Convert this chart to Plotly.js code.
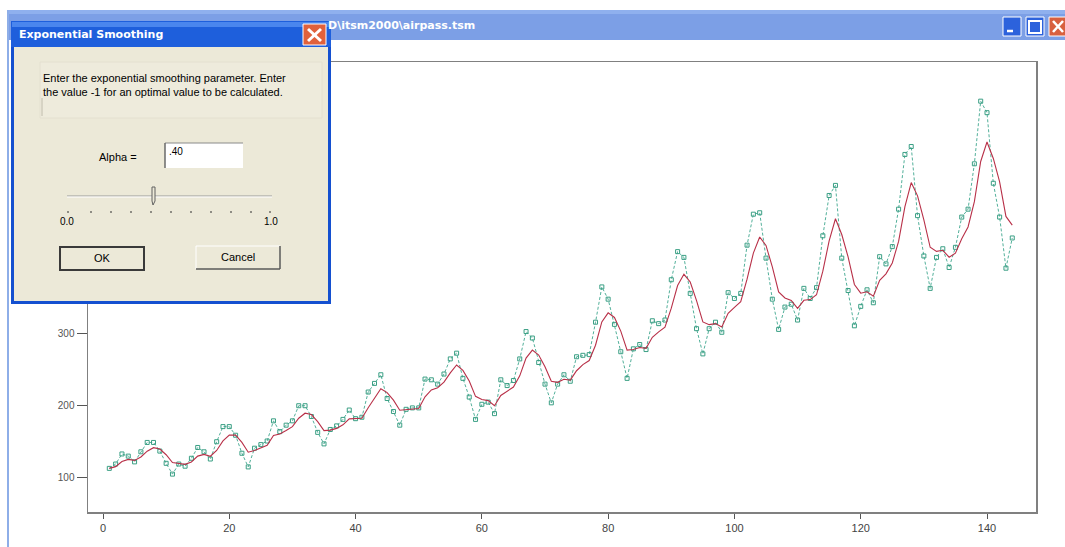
<!DOCTYPE html>
<html>
<head>
<meta charset="utf-8">
<script src="https://cdn.plot.ly/plotly-3.0.1.min.js"></script>
<style>html,body{margin:0;padding:0;background:#fff;}#chart{width:1065px;height:547px;}</style>
</head>
<body>
<div id="chart"></div>
<script>
// Airline passengers series (t = 1..144), as plotted (green, dashed with markers)
const passengers = [
112,118,132,129,121,135,148,148,136,119,104,118,
115,126,141,135,125,149,170,170,158,133,114,140,
145,150,178,163,172,178,199,199,184,162,146,166,
171,180,193,181,183,218,230,242,209,191,172,194,
196,196,236,235,229,243,264,272,237,211,180,201,
204,188,235,227,234,264,302,293,259,229,203,229,
242,233,267,269,270,315,364,347,312,274,237,278,
284,277,317,313,318,374,413,405,355,306,271,306,
315,301,356,348,355,422,465,467,404,347,305,336,
340,318,362,348,363,435,491,505,404,359,310,337,
360,342,406,396,420,472,548,559,463,407,362,405,
417,391,419,461,472,535,622,606,508,461,390,432];

// Smoothed series (red) (alpha = .40)
const smoothed = [
112.0,114.4,121.4,124.5,123.1,127.8,135.9,140.7,138.8,130.9,120.1,119.3,
117.6,120.9,129.0,131.4,128.8,136.9,150.1,158.1,158.1,148.0,134.4,136.7,
140.0,144.0,157.6,159.8,164.7,170.0,181.6,188.6,186.7,176.8,164.5,165.1,
167.5,172.5,180.7,180.8,181.7,196.2,209.7,222.6,217.2,206.7,192.8,193.3,
194.4,195.0,211.4,220.9,224.1,231.7,244.6,255.6,248.1,233.3,212.0,207.6,
206.1,198.9,213.3,218.8,224.9,240.5,265.1,276.3,269.4,253.2,233.1,231.5,
235.7,234.6,247.6,256.1,261.7,283.0,315.4,328.0,321.6,302.6,276.3,277.0,
279.8,278.7,294.0,301.6,308.2,334.5,365.9,381.5,370.9,345.0,315.4,311.6,
313.0,308.2,327.3,335.6,343.4,374.8,410.9,433.3,421.6,391.8,357.1,348.6,
345.2,334.3,345.4,346.4,353.1,385.8,427.9,458.7,436.8,405.7,367.4,355.3,
357.2,351.1,373.1,382.2,397.3,427.2,475.5,508.9,490.5,457.1,419.1,413.4,
414.9,405.3,410.8,430.9,447.3,482.4,538.2,565.3,542.4,509.8,461.9,449.9];

const timeIndex = passengers.map((_, i) => i + 1);
const xTicks = [0, 20, 40, 60, 80, 100, 120, 140];
const yTicks = [100, 200, 300, 400, 500, 600];

// Text of the window chrome
const windowTitle = "D\\itsm2000\\airpass.tsm";
const dialogTitle = "Exponential Smoothing";
const dialogLine1 = "Enter the exponential smoothing parameter. Enter";
const dialogLine2 = "the value -1 for an optimal value to be calculated.";
const alphaLabel = "Alpha =";
const alphaValue = ".40";
const sliderMin = "0.0", sliderMax = "1.0";
const okLabel = "OK", cancelLabel = "Cancel";

// ---- pixel -> paper helpers for decoration ----
const L = 88, R = 1036, T = 62, B = 512;
const px = x => (x - L) / (R - L);
const py = y => (B - y) / (B - T);
const NONE = 'rgba(0,0,0,0)';
function rect(x0, y0, x1, y1, fill, lc, lw) {
  return {type:'rect', xref:'paper', yref:'paper', layer:'above',
    x0:px(x0), x1:px(x1), y0:py(y1), y1:py(y0),
    fillcolor:fill, line:{color:lc || NONE, width:lw || 0}};
}
function seg(x0, y0, x1, y1, c, w) {
  return {type:'line', xref:'paper', yref:'paper', layer:'above',
    x0:px(x0), x1:px(x1), y0:py(y0), y1:py(y1), line:{color:c, width:w || 1}};
}
function poly(pts, fill, lc, lw) {
  const d = pts.map((p, i) => (i ? 'L' : 'M') + px(p[0]) + ',' + py(p[1])).join(' ') + ' Z';
  return {type:'path', xref:'paper', yref:'paper', layer:'above', path:d,
    fillcolor:fill, line:{color:lc || NONE, width:lw || 0}};
}
function txt(x, y, s, opt) {
  opt = opt || {};
  return {xref:'paper', yref:'paper', x:px(x), y:py(y), text:s, showarrow:false,
    xanchor:opt.xa || 'left', yanchor:'middle',
    font:{family:opt.family || 'Liberation Sans, Arial, sans-serif', size:opt.size || 10,
      color:opt.color || '#000', weight: opt.weight || 'normal'}};
}

const shapes = [];
const annotations = [];

// main window title bar + border
shapes.push(rect(8, 10, 1065, 40, '#7c9fe6'));
shapes.push(rect(8, 10, 1065, 14, '#8fb0ee'));
shapes.push(rect(7, 10, 9, 547, '#8eaee8'));
// window buttons
shapes.push(rect(1003, 17, 1021, 36, '#2c62dc', '#ffffff', 1));
shapes.push(seg(1007, 31, 1013, 31, '#ffffff', 2.5));
shapes.push(rect(1026, 17, 1044, 36, '#2c62dc', '#ffffff', 1));
shapes.push(rect(1029, 21, 1041, 33, NONE, '#ffffff', 2));
shapes.push(rect(1049, 17, 1067, 36, '#d8603f', '#ffffff', 1));
shapes.push(seg(1053, 21, 1063, 32, '#ffffff', 2.5));
shapes.push(seg(1063, 21, 1053, 32, '#ffffff', 2.5));
annotations.push(txt(326, 26, windowTitle, {color:'#ffffff', size:11, weight:'bold', family:'DejaVu Sans, sans-serif'}));

// dialog
shapes.push(rect(11, 21, 331, 304, '#1450d0'));
shapes.push(rect(11, 21, 331, 47, '#1e5fdc'));
shapes.push(rect(12, 22, 330, 27, '#4a86ee'));
shapes.push(rect(14, 47, 328, 301, '#ece9d8'));
shapes.push(rect(40, 62, 322, 118, '#eeebdc', '#e4e0d0', 1));
shapes.push(seg(42, 98, 42, 116, '#c0bcac', 1));
// dialog close button
shapes.push(rect(303, 24, 326, 45, '#e0613c', '#ffffff', 1));
shapes.push(seg(308, 29, 321, 41, '#ffffff', 3));
shapes.push(seg(321, 29, 308, 41, '#ffffff', 3));
annotations.push(txt(17, 35, dialogTitle, {color:'#ffffff', size:11, weight:'bold', family:'DejaVu Sans, sans-serif'}));
annotations.push(txt(41, 78, dialogLine1, {size:11}));
annotations.push(txt(41, 92, dialogLine2, {size:11}));
// alpha edit box
annotations.push(txt(97, 157, alphaLabel, {size:11}));
shapes.push(rect(165, 143, 243, 168, '#ffffff'));
shapes.push(seg(165, 143, 243, 143, '#8a8a8a', 1));
shapes.push(seg(165, 143, 165, 168, '#6a6a6a', 1.5));
annotations.push(txt(167, 151, alphaValue, {size:10}));
// slider
shapes.push(seg(67, 196, 272, 196, '#9a9a9a', 1));
shapes.push(seg(67, 197, 272, 197, '#ffffff', 1));
shapes.push(poly([[152,187],[155,187],[155,201],[153,205],[152,201]], '#ece9d8', '#606060', 1));
const tickPx = [68, 91, 111, 131, 151, 171, 191, 211, 231, 251, 270];
tickPx.forEach(x => shapes.push(seg(x, 211, x, 213, '#303030', 1)));
annotations.push(txt(58, 221, sliderMin, {size:10}));
annotations.push(txt(262, 221, sliderMax, {size:10}));
// buttons
shapes.push(rect(60, 247, 144, 270, '#ece9d8', '#3a3a3a', 2));
annotations.push(txt(102, 258, okLabel, {size:11, xa:'center'}));
shapes.push(rect(196, 246, 280, 269, '#ece9d8'));
shapes.push(seg(196, 246, 280, 246, '#ffffff', 1));
shapes.push(seg(196, 246, 196, 269, '#ffffff', 1));
shapes.push(seg(196, 269, 280, 269, '#5a5a5a', 1.5));
shapes.push(seg(280, 246, 280, 269, '#5a5a5a', 1.5));
annotations.push(txt(238, 257, cancelLabel, {size:11, xa:'center'}));

const traces = [
  {x: timeIndex, y: passengers, type:'scatter', mode:'lines+markers',
   line:{color:'#52b09a', width:1, dash:'3px,2px'},
   marker:{symbol:'square-open', size:4, color:'#3a9f84', line:{width:1, color:'#3a9f84'}},
   hoverinfo:'skip'},
  {x: timeIndex, y: smoothed, type:'scatter', mode:'lines',
   line:{color:'#b83048', width:1.1}, hoverinfo:'skip'}
];

const layout = {
  width:1065, height:547,
  margin:{l:L, r:1065 - R, t:T, b:547 - B, pad:0},
  paper_bgcolor:'#ffffff', plot_bgcolor:'#ffffff',
  showlegend:false,
  xaxis:{range:[(L - 103) / 6.3143, (R - 103) / 6.3143], tickvals:xTicks,
    ticks:'outside', ticklen:5, tickcolor:'#555', showgrid:false, zeroline:false,
    showline:true, mirror:true, linecolor:'#808080', linewidth:1.5,
    tickfont:{family:'Liberation Sans, Arial, sans-serif', size:11, color:'#444'}},
  yaxis:{range:[(549 - B) / 0.72, (549 - T) / 0.72], tickvals:yTicks,
    ticks:'outside', ticklen:10, tickcolor:'#555', showgrid:false, zeroline:false,
    showline:true, mirror:true, linecolor:'#808080', linewidth:1.5,
    tickfont:{family:'Liberation Sans, Arial, sans-serif', size:10, color:'#555'}},
  shapes:shapes, annotations:annotations
};

Plotly.newPlot('chart', traces, layout, {staticPlot:true, displayModeBar:false});
</script>
</body>
</html>
